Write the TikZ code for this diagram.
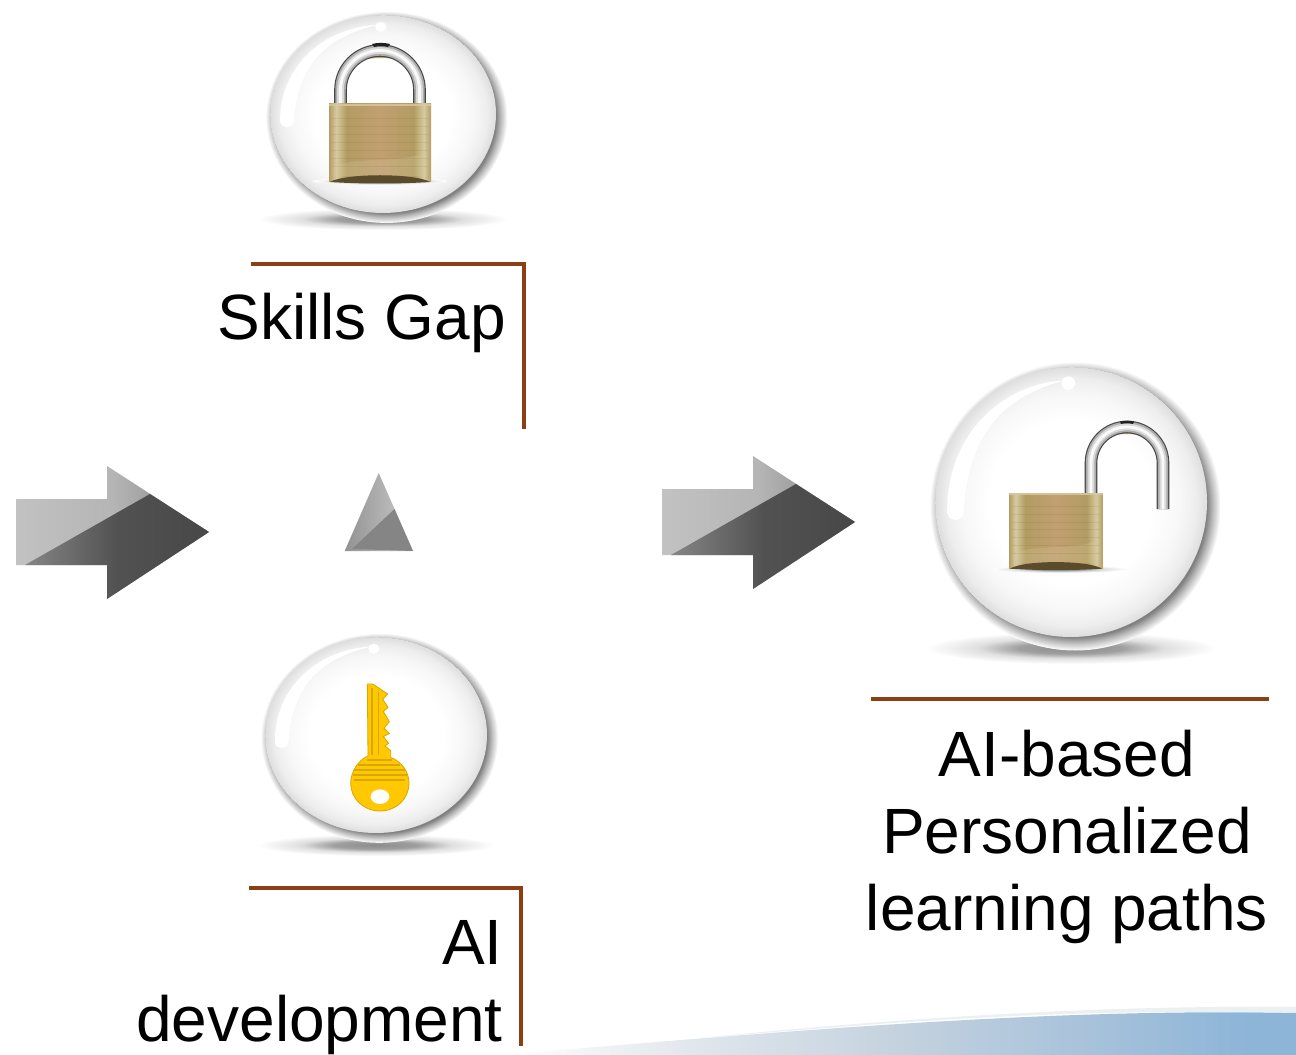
\documentclass[tikz,border=0pt]{standalone}
\usepackage{fontspec}
\setmainfont{Liberation Sans}
\usepackage{xcolor}
\usetikzlibrary{shapes.geometric}

\definecolor{rulebrown}{HTML}{8C3F12}
\definecolor{keygold}{HTML}{FFC800}
\definecolor{keydark}{HTML}{D8A800}
\definecolor{brassedge}{HTML}{B29C62}
\definecolor{brassmid}{HTML}{C29F70}
\definecolor{brasslight}{HTML}{D8CAA0}
\definecolor{brassdark}{HTML}{5A4B2C}
\definecolor{wavepale}{HTML}{DFE6EC}
\definecolor{wavemid}{HTML}{C4D2DF}
\definecolor{wavedeep}{HTML}{A6C1DA}
\definecolor{waveblue}{HTML}{8CB5D8}
\definecolor{shackletan}{HTML}{BFA878}

\pgfdeclareradialshading{ballglass}{\pgfpoint{0bp}{0bp}}{
  color(0bp)=(white); color(15bp)=(white); color(20bp)=(gray!6);
  color(23bp)=(gray!14); color(25bp)=(gray!26)}
\pgfdeclareradialshading{ballhalo}{\pgfpoint{0bp}{0bp}}{
  color(0bp)=(gray!100); color(22.6bp)=(gray!100); color(23.6bp)=(gray!55);
  color(25bp)=(white)}
\pgfdeclareradialshading{floorshade}{\pgfpoint{0bp}{0bp}}{
  color(0bp)=(gray!90); color(9bp)=(gray!75); color(16bp)=(gray!25);
  color(25bp)=(white)}
\pgfdeclarehorizontalshading{brass}{100bp}{
  color(0bp)=(brassedge); color(25bp)=(brassedge); color(28.5bp)=(brasslight);
  color(33.5bp)=(brassedge); color(50bp)=(brassmid); color(66.5bp)=(brassedge);
  color(71.5bp)=(brasslight); color(75bp)=(brassedge); color(100bp)=(brassedge)}
\pgfdeclarehorizontalshading{bluewave}{100bp}{
  color(0bp)=(white); color(25bp)=(white); color(37.6bp)=(wavepale);
  color(50bp)=(wavemid); color(62.7bp)=(wavedeep); color(72bp)=(waveblue);
  color(100bp)=(waveblue)}

\tikzset{
  rulebar/.style={draw=rulebrown, line width=2.3pt},
  caption/.style={inner sep=0pt, font=\fontsize{48}{57.75}\selectfont},
  floorshadow/.style={shading=floorshade},
  steel/.style={line width=9.5pt, draw=gray!55!black,
    postaction={draw=gray!65, line width=7.8pt},
    postaction={draw=gray!30, line width=5pt},
    postaction={draw=gray!5, line width=2.2pt}},
  keybody/.style={fill=keygold, draw=keydark, line width=.6pt},
  keyline/.style={draw=keydark, line width=.8pt},
  pics/glassball/.style={code={
    \shade[shading=ballhalo] (3,3) circle [radius=107];
    \shade[shading=ballglass] (0,0) circle [radius=100];
    \fill[white] (-91,8) .. controls (-92,-50) and (-50,-88) .. (-5,-90)
      .. controls (-50,-78) and (-76,-50) .. (-79,8)
      .. controls (-80,15) and (-90,15) .. (-91,8) -- cycle;
    \fill[white] (-2,-88) circle [radius=5];
  }},
  pics/padbody/.style={code={
    \shade[shading=brass] (0,0) -- (102,0) -- (102,78) -- (0,78) -- cycle;
    \draw[brasslight, line width=1pt, opacity=.8] (0,1) -- (102,1);
    \fill[brasslight, opacity=.25] (4,62) .. controls (35,52) and (70,60) .. (98,48)
      -- (98,72) -- (4,72) -- cycle;
    \draw[brassdark, line width=.6pt, opacity=.09]
      (3,14) -- (99,14) (3,22) -- (99,22) (3,30) -- (99,30) (3,38) -- (99,38)
      (3,46) -- (99,46) (3,54) -- (99,54) (3,62) -- (99,62);
    \fill[brassdark] (1,78) .. controls (16,69) and (86,69) .. (101,78)
      .. controls (70,80) and (32,80) .. (1,78) -- cycle;
  }},
  pics/bigarrow/.style={code={
    \shade[left color=gray!48, right color=gray, middle color=gray!58]
      (0,0) -- (91,0) -- (91,-33) -- (193,33) -- (91,100) -- (91,66) -- (0,66) -- cycle;
    \shade[left color=gray!95, right color=black!72!white, middle color=black!68!white]
      (9,66) -- (134,-5) -- (193,33) -- (91,100) -- (91,66) -- cycle;
  }}
}

\begin{document}
\begin{tikzpicture}[x=.75pt, y=-.75pt]
  \useasboundingbox (0,0) rectangle (1296,1055);
  \fill[white] (0,0) rectangle (1296,1055);

  \shade[shading=bluewave] (500,1055) .. controls (800,1030) and (1050,1008) .. (1296,1013)
    -- (1296,1055) -- cycle;
  \fill[wavepale, opacity=.6] (700,1038) .. controls (900,1018) and (1100,1005) .. (1296,1007)
    -- (1296,1013) .. controls (1050,1008) and (900,1022) .. (700,1038) -- cycle;

  \shade[floorshadow] (383,219) ellipse [x radius=125, y radius=11];
  \pic[xscale=1.13, yscale=.99] at (383,114) {glassball};
  \draw[shackletan, line width=3pt] (352,62) .. controls (362,54) and (400,54) .. (410,62);
  \draw[steel] (340.5,106) -- (340.5,90) arc [start angle=180, end angle=360, radius=39.5]
    -- (419.5,106);
  \fill[gray!25!black] (372,44) .. controls (378,42.5) and (384,42.5) .. (390,44)
    -- (388,47) .. controls (384,46) and (378,46) .. (374,47) -- cycle;
  \shade[floorshadow] (380,181) ellipse [x radius=68, y radius=4];
  \pic at (329,104) {padbody};

  \shade[floorshadow] (376,845) ellipse [x radius=118, y radius=11];
  \pic[xscale=1.11, yscale=.98] at (376,735) {glassball};
  \begin{scope}[shift={(250,620)}, scale=1/3]
    \draw[keybody] (352,192) -- (368,192) -- (413,222) -- (398,238) -- (414,262) -- (400,275)
      -- (418,305) -- (402,325) -- (418,340) -- (400,350) -- (416,370) -- (405,378)
      -- (422,392) -- (422,412) .. controls (455,425) and (477,455) .. (477,490)
      .. controls (477,535) and (440,573) .. (390,573)
      .. controls (340,573) and (302,535) .. (302,490)
      .. controls (302,455) and (325,420) .. (354,408) -- cycle;
    \fill[white] (390,530) ellipse [x radius=28, y radius=22];
    \draw[keydark, line width=1.6pt] (367,205) -- (367,405);
    \draw[keyline] (386,215) -- (386,405)
      (352,420) -- (425,420) (325,435) -- (450,435) (312,450) -- (465,450)
      (308,465) -- (470,465) (312,480) -- (465,480);
  \end{scope}

  \pic at (16,499) {bigarrow};

  \path[left color=gray!85, right color=gray!42] (378.7,473) -- (413,551) -- (344.7,551) -- cycle;
  \fill[black!48!white] (394.5,509) -- (413,551) -- (352,549) -- cycle;

  \coordinate (skillsStart) at (251,264);
  \coordinate (skillsCorner) at (524,264);
  \coordinate (skillsEnd) at (524,429);
  \coordinate (aiStart) at (249,888);
  \coordinate (aiCorner) at (521,888);
  \coordinate (aiEnd) at (521,1046);
  \coordinate (pathStart) at (871,699);
  \coordinate (pathEnd) at (1269,699);
  \draw[rulebar] (skillsStart) -- (skillsCorner) -- (skillsEnd);
  \draw[rulebar] (aiStart) -- (aiCorner) -- (aiEnd);
  \draw[rulebar] (pathStart) -- (pathEnd);

  \node[caption, anchor=base east] (skillslabel) at (506,340) {Skills Gap};
  \node[caption, anchor=north east, align=right] (ailabel) at (503,920) {AI\\development};
  \node[caption, anchor=north, align=center] (pathlabel) at (1067,730)
    {AI-based\\Personalized\\learning paths};

  \pic at (662,489) {bigarrow};

  \shade[floorshadow] (1071,648) ellipse [x radius=145, y radius=16];
  \pic[xscale=1.36, yscale=1.35] at (1071,502) {glassball};
  \draw[shackletan, line width=3pt] (1100,438) .. controls (1108,430) and (1146,430) .. (1154,438);
  \draw[steel] (1091,495) -- (1091,463) arc [start angle=180, end angle=360, radius=36]
    -- (1163,509);
  \fill[gray!25!black] (1120,421.5) .. controls (1125,420.5) and (1129,420.5) .. (1134,421.5)
    -- (1133,424) .. controls (1129,423) and (1125,423) .. (1121,424) -- cycle;
  \shade[floorshadow] (1060,569) ellipse [x radius=68, y radius=4];
  \pic[xscale=.92, yscale=.97] at (1009,493) {padbody};
\end{tikzpicture}
\end{document}
